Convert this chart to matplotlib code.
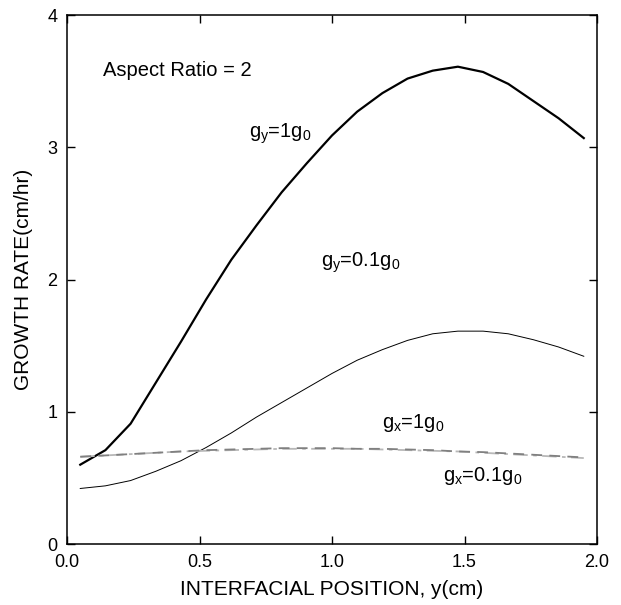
import matplotlib
matplotlib.use('Agg')
import matplotlib.pyplot as plt

plt.rcParams['font.family'] = ['Liberation Sans', 'DejaVu Sans']
plt.rcParams['mathtext.fontset'] = 'custom'
plt.rcParams['mathtext.rm'] = 'Liberation Sans'
plt.rcParams['mathtext.it'] = 'Liberation Sans'

# interfacial position y (cm)
pos = [0.05, 0.145, 0.24, 0.335, 0.43, 0.525, 0.62, 0.715, 0.81, 0.905, 1.0,
       1.095, 1.19, 1.285, 1.38, 1.475, 1.57, 1.665, 1.76, 1.855, 1.95]

# growth rate (cm/hr)
gy_1 = [0.60, 0.71, 0.91, 1.22, 1.53, 1.85, 2.15, 2.41, 2.66, 2.88, 3.09,
        3.27, 3.41, 3.52, 3.58, 3.61, 3.57, 3.48, 3.35, 3.22, 3.07]
gy_01 = [0.42, 0.44, 0.48, 0.55, 0.63, 0.73, 0.84, 0.96, 1.07, 1.18, 1.29,
         1.39, 1.47, 1.54, 1.59, 1.61, 1.61, 1.59, 1.545, 1.49, 1.42]
gx_1 = [0.66, 0.67, 0.68, 0.69, 0.70, 0.705, 0.71, 0.715, 0.72, 0.72, 0.72,
        0.72, 0.715, 0.71, 0.705, 0.70, 0.69, 0.68, 0.67, 0.66, 0.65]
gx_01 = [0.66, 0.67, 0.68, 0.69, 0.70, 0.71, 0.715, 0.72, 0.725, 0.725, 0.725,
         0.72, 0.72, 0.715, 0.71, 0.70, 0.695, 0.685, 0.675, 0.665, 0.655]

fig = plt.figure(figsize=(6.21, 6.05), dpi=100)
ax = fig.add_axes([0.1079, 0.1008, 0.8535, 0.8742])

ax.plot(pos, gy_1, color='k', linewidth=1.6)
ax.plot(pos, gy_01, color='k', linewidth=0.7)
ax.plot(pos, gx_1, color='#b8b8b8', linewidth=1.3, linestyle=(0, (8, 3, 2, 3)))
ax.plot(pos, gx_01, color='#808080', linewidth=1.3, linestyle=(0, (6, 4)))

ax.text(0.136, 3.58, 'Aspect Ratio = 2', fontsize=14.5, va='center')
ax.text(0.685, 3.07, r'g$_\mathregular{y}$=1g$_\mathregular{0}$', fontsize=14.5)
ax.text(0.96, 2.10, r'g$_\mathregular{y}$=0.1g$_\mathregular{0}$', fontsize=14.5)
ax.text(1.19, 0.88, r'g$_\mathregular{x}$=1g$_\mathregular{0}$', fontsize=14.5)
ax.text(1.42, 0.48, r'g$_\mathregular{x}$=0.1g$_\mathregular{0}$', fontsize=14.5)

ax.set_xlim(0, 2.0)
ax.set_ylim(0, 4)
ax.set_xticks([0.0, 0.5, 1.0, 1.5, 2.0])
ax.set_xticklabels(['0.0', '0.5', '1.0', '1.5', '2.0'])
ax.set_yticks([0, 1, 2, 3, 4])
ax.set_xlabel('INTERFACIAL POSITION, y(cm)', fontsize=15, labelpad=7)
ax.set_ylabel('GROWTH RATE(cm/hr)', fontsize=15, labelpad=10)
ax.tick_params(axis='both', which='major', direction='in', length=6, width=1,
               top=True, right=True, labelsize=13, pad=7)
for s in ax.spines.values():
    s.set_linewidth(1.1)

plt.savefig('out.png')
